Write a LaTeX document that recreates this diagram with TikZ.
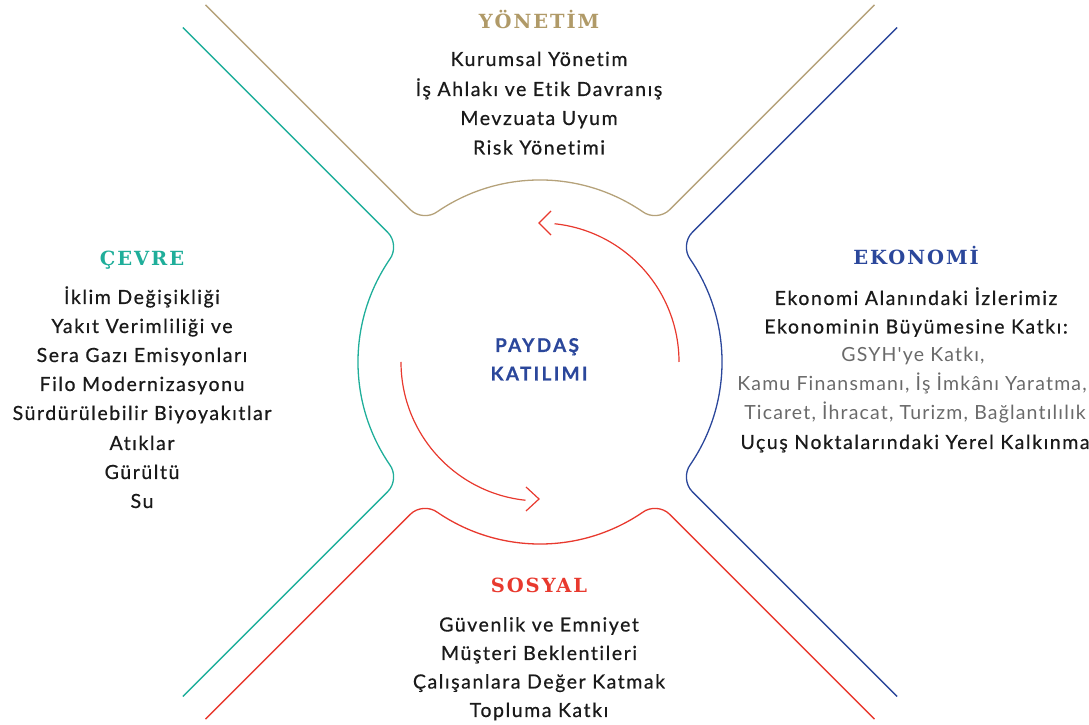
\documentclass[tikz,border=0pt]{standalone}
\usepackage{fontspec}
\setmainfont{Lato}
\newfontfamily\bodyfont[LetterSpace=8, FakeBold=0.6, Ligatures=NoCommon]{Lato}
\newfontfamily\litefont[LetterSpace=6, Ligatures=NoCommon]{Lato}
\newfontfamily\ctrfont[LetterSpace=12, FakeBold=0.5]{Lato}
\newfontfamily\titlefont[LetterSpace=10]{DejaVu Serif}
\definecolor{cgold}{HTML}{B5A27A}
\definecolor{tgold}{HTML}{B09A68}
\definecolor{cteal}{HTML}{1FAE9A}
\definecolor{cblue}{HTML}{2B479B}
\definecolor{cred}{HTML}{E8392E}
\definecolor{cgray}{HTML}{6A6A6A}
\definecolor{ctext}{HTML}{1A1A1A}
\tikzset{
  arcline/.style={line width=1.3pt, line join=round},
  ttl/.style={anchor=base, inner sep=0pt, font=\titlefont\bfseries\fontsize{19.5}{22}\selectfont},
  body/.style={anchor=base, inner sep=0pt, text=ctext, font=\bodyfont\fontsize{19.5}{22}\selectfont},
  lite/.style={anchor=base, inner sep=0pt, text=cgray, font=\litefont\fontsize{19.5}{22}\selectfont},
  ctr/.style={anchor=base, inner sep=0pt, text=cblue, font=\ctrfont\bfseries\fontsize{19}{24}\selectfont},
}
\newcommand\quadarc[2]{%
  \begin{scope}[shift={(540,363)}, rotate=#1]
    \draw[#2, arcline] (334.46,357.08) -- (129.61,152.24)
      .. controls (122.61,145.24) and (110.41,144.41) .. (102.50,150.39)
      arc[start angle=55.71, end angle=124.29, radius=182]
      .. controls (-110.41,144.41) and (-122.61,145.24) .. (-129.61,152.24)
      -- (-334.46,357.08);
  \end{scope}}
\begin{document}
\begin{tikzpicture}[x=1pt,y=1pt]
\useasboundingbox (0,0) rectangle (1089,725);
\quadarc{0}{cgold}
\quadarc{-90}{cblue}
\quadarc{180}{cred}
\quadarc{90}{cteal}
% inner arrows
\begin{scope}[shift={(540,363)}]
  \draw[cred, line width=1.2pt] (139,0) arc[start angle=0, end angle=84, radius=139];
  \draw[cred, line width=1.2pt] (11,151) -- (-1,139) -- (11,127);
  \draw[cred, line width=1.2pt] (-139,0) arc[start angle=180, end angle=264, radius=139];
  \draw[cred, line width=1.2pt] (-14,-125) -- (-1,-137) -- (-14,-149);
\end{scope}
% centre
\node[ctr] (c1) at (537,725-352) {PAYDAŞ};
\node[ctr] (c2) at (539,725-380.5) {KATILIMI};
% top
\node[ttl, text=tgold] (t0) at (539,725-28.3) {YÖNETİM};
\node[body] (t1) at (539,725-66) {Kurumsal Yönetim};
\node[body] (t2) at (539,725-96) {İş Ahlakı ve Etik Davranış};
\node[body] (t3) at (539,725-125) {Mevzuata Uyum};
\node[body] (t4) at (539,725-154.5) {Risk Yönetimi};
% left
\node[ttl, text=cteal] (l0) at (142,725-266) {ÇEVRE};
\node[body] (l1) at (142,725-304) {İklim Değişikliği};
\node[body] (l2) at (142,725-333) {Yakıt Verimliliği ve};
\node[body] (l3) at (142,725-362) {Sera Gazı Emisyonları};
\node[body] (l4) at (142,725-391) {Filo Modernizasyonu};
\node[body] (l5) at (142,725-420) {Sürdürülebilir Biyoyakıtlar};
\node[body] (l6) at (142,725-450) {Atıklar};
\node[body] (l7) at (142,725-479) {Gürültü};
\node[body] (l8) at (142,725-508) {Su};
% right
\node[ttl, text=cblue] (r0) at (916,725-265) {EKONOMİ};
\node[body] (r1) at (916,725-305) {Ekonomi Alanındaki İzlerimiz};
\node[body] (r2) at (916,725-333.5) {Ekonominin Büyümesine Katkı:};
\node[lite] (r3) at (913,725-362) {GSYH'ye Katkı,};
\node[lite] (r4) at (912,725-391) {Kamu Finansmanı, İş İmkânı Yaratma,};
\node[lite] (r5) at (915,725-420) {Ticaret, İhracat, Turizm, Bağlantılılık};
\node[body] (r6) at (915,725-449) {Uçuş Noktalarındaki Yerel Kalkınma};
% bottom
\node[ttl, text=cred] (b0) at (539,725-593) {SOSYAL};
\node[body] (b1) at (539,725-631.5) {Güvenlik ve Emniyet};
\node[body] (b2) at (539,725-660) {Müşteri Beklentileri};
\node[body] (b3) at (539,725-688.5) {Çalışanlara Değer Katmak};
\node[body] (b4) at (539,725-717) {Topluma Katkı};
\end{tikzpicture}
\end{document}
